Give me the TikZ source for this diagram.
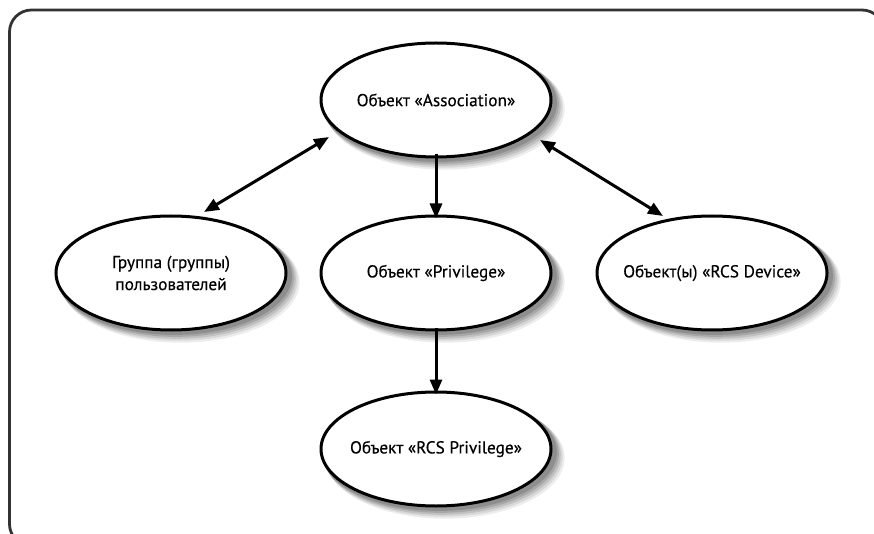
\documentclass[tikz,border=0pt]{standalone}
\usepackage{fontspec}
\setmainfont{PT Sans}
\newfontfamily\entfont{PT Sans}[FakeBold=0.35]
\usetikzlibrary{arrows.meta,shapes.geometric}
\tikzset{
  ent/.style={ellipse, draw=black, line width=3pt, fill=white,
    minimum width=230pt, minimum height=114pt, inner xsep=-30pt, inner ysep=0pt,
    align=center, font=\entfont\fontsize{17.3}{22}\selectfont},
  conn/.style={line width=3pt, -{Triangle[length=15pt,width=12pt]}},
  bconn/.style={line width=3pt, {Triangle[length=15pt,width=12pt]}-{Triangle[length=15pt,width=12pt]}},
}
\newcommand{\shadowell}[2]{%
  \foreach \k/\o in {9/0.07,7.5/0.09,6/0.11,4.5/0.13,3/0.15}{
    \fill[black,opacity=\o] (#1+\k,#2+\k) ellipse [x radius=117+0.3*\k, y radius=58+0.3*\k];
  }}
\begin{document}
\begin{tikzpicture}[x=1pt,y=-1pt]
\useasboundingbox (0,0) rectangle (874,534);
\begin{scope}
\clip (0,0) rectangle (874,534);
\draw[line width=2.8pt, draw=black!80, rounded corners=22pt] (9.5,10) rectangle (884,546);
\end{scope}
\shadowell{436}{100}
\shadowell{436}{273}
\shadowell{171}{273}
\shadowell{712}{273}
\shadowell{436}{449}
\node[ent] (assoc) at (436,100) {Объект «Association»};
\node[ent] (priv) at (436,273) {Объект «Privilege»};
\node[ent] (grp) at (171,273) {Группа (группы)\\пользователей};
\node[ent] (dev) at (712,273) {Объект(ы) «RCS Device»};
\node[ent] (rcspriv) at (436,449) {Объект «RCS Privilege»};
\draw[conn] ([yshift=4]assoc.south) -- ([yshift=-4]priv.north);
\draw[conn] ([yshift=4]priv.south) -- ([yshift=-4]rcspriv.north);
\coordinate (g1) at (204,212);
\coordinate (g2) at (329,137);
\draw[bconn] (g1) -- (g2);
\coordinate (d1) at (540,140);
\coordinate (d2) at (663,216);
\draw[bconn] (d1) -- (d2);
\end{tikzpicture}
\end{document}
